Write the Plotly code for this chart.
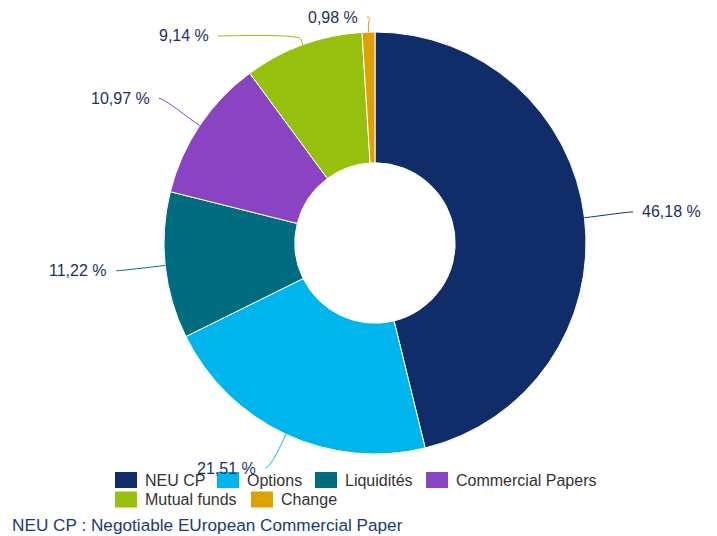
import math
import plotly.graph_objects as go

# ---- data ----
labels = ["NEU CP", "Options", "Liquidités", "Commercial Papers", "Mutual funds", "Change"]
values = [46.18, 21.51, 11.22, 10.97, 9.14, 0.98]
colors = ["#102d69", "#00b5ec", "#006c80", "#8a44c2", "#97bf0d", "#e0a000"]
footnote = "NEU CP : Negotiable EUropean Commercial Paper"

# ---- layout (pixels) ----
W, H = 717, 536
ML, MR = 80, 80
GW = W - ML - MR
CX, CY, R = 375, 243, 211
HOLE = 0.38
R2 = 260          # label circle radius
TOP, BOTTOM = 17, 468
GAP = 19
OFF = 6
PAD = 7
FONT = "Liberation Sans, Arial, sans-serif"
LABEL_COLOR = "#1c3160"
# legend layout: left x of each entry's swatch and the row's centre y
LEG_X = [115, 217, 315, 426, 115, 251]
LEG_ROW_Y = [480, 499.5]
LEG_ROW = [0, 0, 0, 0, 1, 1]
SW_W, SW_H, TXT_DX = 22, 16, 28


def px(x):
    return (x - ML) / GW


def py(y):
    return 1 - y / H


fig = go.Figure()
fig.add_trace(go.Pie(
    labels=labels, values=values, sort=False, direction="clockwise", rotation=0,
    hole=HOLE, textinfo="none", hoverinfo="label+percent", showlegend=False,
    marker=dict(colors=colors, line=dict(color="white", width=1)),
    domain=dict(x=[px(CX - R), px(CX + R)], y=[py(CY + R), py(CY - R)]),
))

# ---- data labels with connectors ----
total = sum(values)
cum = 0
items = []
for i, v in enumerate(values):
    th = 2 * math.pi * (cum + v / 2) / total
    cum += v
    ux, uy = math.sin(th), -math.cos(th)
    ny = CY + R2 * uy
    items.append(dict(i=i, ux=ux, uy=uy, ny=ny, left=ux < 0,
                      y=min(max(ny, TOP), BOTTOM)))

for side in (True, False):
    grp = sorted([it for it in items if it["left"] == side], key=lambda d: d["ny"])
    for k in range(1, len(grp)):
        grp[k]["y"] = max(grp[k]["y"], grp[k - 1]["y"] + GAP)

shapes = []
annotations = []
for it in items:
    i = it["i"]
    sgn = -1 if it["left"] else 1
    y = it["y"]
    if abs(y - TOP) < 0.5 or abs(y - BOTTOM) < 0.5:
        x = CX + R2 * it["ux"]
    else:
        x = CX + sgn * math.sqrt(max(R2 ** 2 - (y - CY) ** 2, 0))
    tx, ty = CX + R * it["ux"], CY + R * it["uy"]
    bx, by = CX + (R + OFF) * it["ux"], CY + (R + OFF) * it["uy"]
    c1x, c1y = x - sgn * 5, y
    c2x, c2y = 2 * bx - tx, 2 * by - ty
    path = (f"M {px(x)},{py(y)} C {px(c1x)},{py(c1y)} {px(c2x)},{py(c2y)} "
            f"{px(bx)},{py(by)} L {px(tx)},{py(ty)}")
    shapes.append(dict(type="path", xref="paper", yref="paper", path=path,
                       line=dict(color=colors[i], width=1)))
    txt = f"{values[i]:.2f}".replace(".", ",") + " %"
    annotations.append(dict(
        xref="paper", yref="paper", x=px(x + sgn * PAD), y=py(y),
        xanchor="right" if it["left"] else "left", yanchor="middle",
        text=txt, showarrow=False,
        font=dict(family=FONT, size=16, color=LABEL_COLOR)))

# ---- legend ----
for i, name in enumerate(labels):
    lx = LEG_X[i]
    ly = LEG_ROW_Y[LEG_ROW[i]]
    shapes.append(dict(type="rect", xref="paper", yref="paper",
                       x0=px(lx), x1=px(lx + SW_W), y0=py(ly - SW_H / 2), y1=py(ly + SW_H / 2),
                       fillcolor=colors[i], line=dict(width=0)))
    annotations.append(dict(
        xref="paper", yref="paper", x=px(lx + TXT_DX), y=py(ly),
        xanchor="left", yanchor="middle", text=name, showarrow=False,
        font=dict(family=FONT, size=16, color="#333333")))

annotations.append(dict(
    xref="paper", yref="paper", x=px(10), y=py(525), xanchor="left", yanchor="middle",
    text=footnote, showarrow=False,
    font=dict(family=FONT, size=17.2, color="#203a72")))

fig.update_layout(
    width=W, height=H,
    margin=dict(l=ML, r=MR, t=0, b=0, pad=0),
    paper_bgcolor="white", plot_bgcolor="white",
    font=dict(family=FONT, size=16, color="#333333"),
    showlegend=False,
    shapes=shapes, annotations=annotations,
)

fig.write_html("out.html")
